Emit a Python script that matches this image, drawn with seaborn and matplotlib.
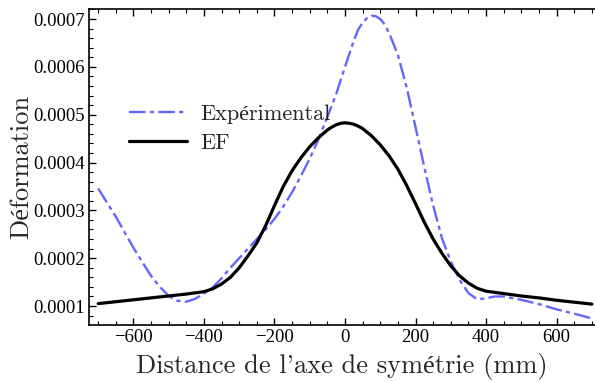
import matplotlib
matplotlib.use("Agg")
import matplotlib.pyplot as plt
import seaborn as sns
from matplotlib.ticker import MultipleLocator, FixedLocator, FixedFormatter

# ---- data ----
x_ef = [-700, -650, -600, -550, -500, -450, -400, -375, -350, -325, -300, -275, -250,
        -225, -200, -175, -150, -125, -100, -75, -50, -37.5, -25, -12.5, 0, 12.5, 25,
        37.5, 50, 75, 100, 125, 150, 175, 200, 225, 250, 275, 300, 325, 350, 375, 400,
        450, 500, 550, 600, 650, 700]
y_ef = [0.000105, 0.000109, 0.000113, 0.000117, 0.000121, 0.000125, 0.000130, 0.000136,
        0.000146, 0.000160, 0.000180, 0.000205, 0.000232, 0.000268, 0.000310, 0.000350,
        0.000383, 0.000410, 0.000433, 0.000452, 0.000468, 0.000474, 0.000479, 0.000482,
        0.000483, 0.000482, 0.000480, 0.000476, 0.000471, 0.000456, 0.000437, 0.000414,
        0.000386, 0.000352, 0.000314, 0.000275, 0.000240, 0.000210, 0.000184, 0.000163,
        0.000148, 0.000137, 0.000131, 0.000126, 0.000121, 0.000117, 0.000112, 0.000108,
        0.000104]

x_exp = [-700, -675, -650, -625, -600, -575, -550, -525, -500, -475, -450, -425, -400,
         -375, -350, -325, -300, -275, -250, -225, -200, -175, -150, -125, -100, -75,
         -50, -25, 0, 25, 37.5, 50, 62.5, 75, 87.5, 100, 112.5, 125, 150, 175, 200, 225,
         250, 275, 300, 325, 350, 375, 400, 425, 450, 500, 550, 600, 650, 700]
y_exp = [0.000346, 0.000316, 0.000287, 0.000254, 0.000222, 0.000192, 0.000163, 0.000140,
         0.000121, 0.000111, 0.000109, 0.000115, 0.000126, 0.000139, 0.000158, 0.000180,
         0.000200, 0.000220, 0.000240, 0.000260, 0.000282, 0.000308, 0.000338, 0.000372,
         0.000408, 0.000449, 0.000495, 0.000543, 0.000600, 0.000655, 0.000678, 0.000692,
         0.000702, 0.000707, 0.000706, 0.000700, 0.000689, 0.000671, 0.000625, 0.000557,
         0.000474, 0.000390, 0.000310, 0.000242, 0.000193, 0.000155, 0.000127, 0.000114,
         0.000116, 0.000120, 0.000120, 0.000113, 0.000104, 0.000093, 0.000084, 0.000074]

x_ticks = [-600, -400, -200, 0, 200, 400, 600]
x_tick_labels = ["\u2212600", "\u2212400", "\u2212200", "0", "200", "400", "600"]
y_ticks = [0.0001, 0.0002, 0.0003, 0.0004, 0.0005, 0.0006, 0.0007]
y_tick_labels = ["0.0001", "0.0002", "0.0003", "0.0004", "0.0005", "0.0006", "0.0007"]

label_exp = "Expérimental"
label_ef = "EF"
xlabel = "Distance de l'axe de symétrie (mm)"
ylabel = "Déformation"

# ---- style ----
sns.set_style("ticks")
label_font = ["cmr10", "Liberation Serif"]
tick_font = "Liberation Serif"
plt.rcParams["axes.unicode_minus"] = True

fig = plt.figure(figsize=(5.95, 3.82), dpi=100)
ax = fig.add_axes([89 / 595, 57 / 382, 1.0 - 89 / 595, (325 - 9) / 382])

sns.lineplot(x=x_exp, y=y_exp, ax=ax, color="#6666ff", linewidth=1.7,
             label=label_exp, sort=False)
ax.lines[-1].set_linestyle((0, (7.0, 1.8, 1.8, 1.8)))
sns.lineplot(x=x_ef, y=y_ef, ax=ax, color="black", linewidth=2.3,
             label=label_ef, sort=False)

ax.set_xlim(-726, 709)
ax.set_ylim(0.0000603, 0.000721)

ax.xaxis.set_major_locator(FixedLocator(x_ticks))
ax.xaxis.set_major_formatter(FixedFormatter(x_tick_labels))
ax.yaxis.set_major_locator(FixedLocator(y_ticks))
ax.yaxis.set_major_formatter(FixedFormatter(y_tick_labels))
ax.xaxis.set_minor_locator(MultipleLocator(50))
ax.yaxis.set_minor_locator(MultipleLocator(0.00002))

ax.tick_params(which="both", direction="in", top=True, right=False, colors="black")
ax.tick_params(which="major", length=5, width=1.0, pad=3)
ax.tick_params(which="minor", length=3, width=0.8)
for lab in ax.get_xticklabels() + ax.get_yticklabels():
    lab.set_fontfamily(tick_font)
    lab.set_fontsize(13.5)

for side in ["left", "bottom", "top"]:
    ax.spines[side].set_linewidth(1.2)
    ax.spines[side].set_color("black")
ax.spines["right"].set_visible(False)

ax.set_xlabel(xlabel, family=label_font, fontsize=19, labelpad=5)
ax.set_ylabel(ylabel, family=label_font, fontsize=19, labelpad=0)

leg = ax.legend(loc="center left", bbox_to_anchor=(0.079, 0.622), frameon=False,
                prop={"family": label_font, "size": 16}, handlelength=2.6,
                handletextpad=0.59, labelspacing=0.41, borderaxespad=0, borderpad=0)

fig.savefig("out.png", dpi=100)
